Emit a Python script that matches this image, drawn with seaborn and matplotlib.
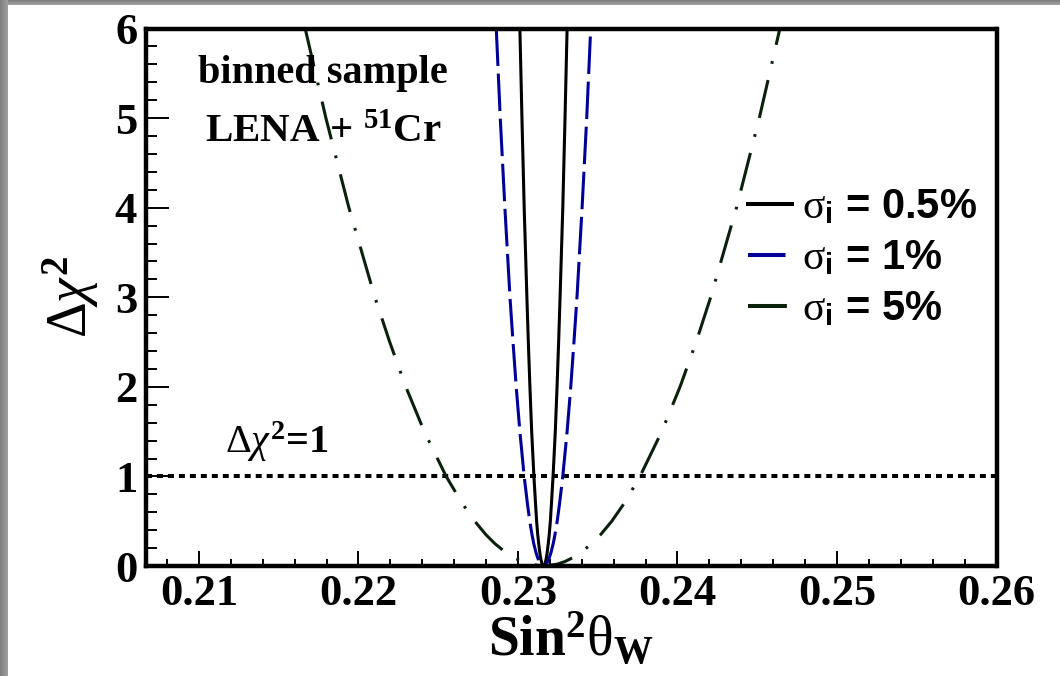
import numpy as np
import pandas as pd
import matplotlib
matplotlib.use("Agg")
import matplotlib.pyplot as plt
import seaborn as sns

# Delta chi^2 scan points, left branch (6 -> 0) then right branch (0 -> 6)
dchi2_left = [6, 5, 4, 3, 2.5, 2, 1.5, 1, 0.7, 0.5, 0.35, 0.25, 0.15, 0.1, 0.05, 0.02, 0]
dchi2_right = [0.02, 0.05, 0.1, 0.15, 0.25, 0.35, 0.5, 0.7, 1, 1.5, 2, 2.5, 3, 4, 5, 6]
dchi2_levels = dchi2_left + dchi2_right

sin2w_sigma_05 = [0.23012, 0.23025, 0.23039, 0.23056, 0.23065, 0.23075, 0.23086,
                  0.23100, 0.23110, 0.23117, 0.23124, 0.23130, 0.23137, 0.23141,
                  0.23147, 0.23151, 0.23160,
                  0.23169, 0.23173, 0.23179, 0.23183, 0.23190, 0.23196, 0.23203,
                  0.23210, 0.23220, 0.23234, 0.23245, 0.23255, 0.23264, 0.23281,
                  0.23295, 0.23308]
sin2w_sigma_1 = [0.22864, 0.22889, 0.22918, 0.22950, 0.22969, 0.22989, 0.23012,
                 0.23039, 0.23059, 0.23074, 0.23088, 0.23099, 0.23113, 0.23122,
                 0.23133, 0.23143, 0.23160,
                 0.23177, 0.23187, 0.23198, 0.23207, 0.23221, 0.23232, 0.23246,
                 0.23261, 0.23281, 0.23308, 0.23331, 0.23351, 0.23370, 0.23402,
                 0.23431, 0.23456]
sin2w_sigma_5 = [0.21666, 0.21796, 0.21940, 0.22103, 0.22196, 0.22297, 0.22413,
                 0.22550, 0.22650, 0.22729, 0.22799, 0.22855, 0.22924, 0.22967,
                 0.23024, 0.23074, 0.23160,
                 0.23246, 0.23295, 0.23351, 0.23394, 0.23463, 0.23518, 0.23588,
                 0.23666, 0.23765, 0.23901, 0.24016, 0.24117, 0.24208, 0.24370,
                 0.24513, 0.24642]

series_names = ["0.5%", "1%", "5%"]
series_colors = ["#000000", "#000099", "#0b200b"]

x_ticks = [0.21, 0.22, 0.23, 0.24, 0.25, 0.26]
y_ticks = [0, 1, 2, 3, 4, 5, 6]

df = pd.concat([
    pd.DataFrame({"sin2w": xs, "dchi2": dchi2_levels, "sigma": name})
    for xs, name in zip([sin2w_sigma_05, sin2w_sigma_1, sin2w_sigma_5], series_names)
])

plt.rcParams["lines.scale_dashes"] = False
plt.rcParams["mathtext.fontset"] = "custom"
plt.rcParams["mathtext.rm"] = "Liberation Serif"
plt.rcParams["mathtext.it"] = "Liberation Serif:italic"
plt.rcParams["mathtext.bf"] = "Liberation Serif:bold"
plt.rcParams["mathtext.sf"] = "Liberation Sans:bold"
plt.rcParams["font.family"] = ["Liberation Serif", "DejaVu Serif"]

W, H = 1060, 676
fig = plt.figure(figsize=(W / 100, H / 100), dpi=100)
fig.patch.set_facecolor("white")

# shaded frame along the left and top edges of the canvas
left_band = np.tile(np.linspace(0.50, 0.62, 8)[None, :, None], (H, 1, 3))
top_band = np.tile(np.linspace(0.50, 0.62, 5)[:, None, None], (1, W, 3))
fig.figimage(top_band, xo=0, yo=H - 5, origin="upper", zorder=0)
fig.figimage(left_band, xo=0, yo=0, origin="upper", zorder=0)

ax = fig.add_axes([145.5 / W, (H - 566) / H, 851 / W, 537.5 / H])

sns.lineplot(
    data=df, x="sin2w", y="dchi2", hue="sigma", style="sigma",
    hue_order=series_names, style_order=series_names,
    palette=dict(zip(series_names, series_colors)),
    dashes={"0.5%": "", "1%": (27, 5.5), "5%": (28, 12, 2, 12)},
    estimator=None, sort=True, linewidth=2.2, ax=ax, legend=True,
)

ax.axhline(1, color="black", linewidth=2.9, dashes=(4.3, 3.6),
           dash_capstyle="butt", zorder=1)

ax.set_xlim(0.20665, 0.26)
ax.set_ylim(0, 6)
ax.set_xticks(x_ticks)
ax.set_xticklabels([f"{v:.2f}" for v in x_ticks])
ax.set_yticks(y_ticks)
ax.set_yticklabels([str(v) for v in y_ticks])
ax.set_xticks(np.arange(0.208, 0.2601, 0.002), minor=True)
ax.set_yticks(np.arange(0, 6.01, 0.2), minor=True)

for s in ax.spines.values():
    s.set_linewidth(3.2)
    s.set_color("black")

ax.tick_params(axis="both", which="both", direction="in", width=1.4,
               top=False, right=False, colors="black")
ax.tick_params(axis="x", which="major", length=10.8, pad=6)
ax.tick_params(axis="x", which="minor", length=5)
ax.tick_params(axis="y", which="major", length=16.5, pad=6)
ax.tick_params(axis="y", which="minor", length=8)
for lab in ax.get_xticklabels() + ax.get_yticklabels():
    lab.set_fontsize(32)
    lab.set_fontweight("bold")
    lab.set_fontfamily("Liberation Serif")

ax.set_xlabel(r"Sin$^{\mathbf{2}}\mathrm{\theta}_{\mathbf{W}}$",
              fontsize=40, fontweight="bold", labelpad=-3)
ax.set_ylabel(r"$\mathrm{\Delta}\chi^{\mathbf{2}}$", fontsize=40, labelpad=10)

ax.text(0.2086, 0.917, "binned sample", transform=ax.transAxes,
        fontsize=29, fontweight="bold", ha="center", va="center")
ax.text(0.0699, 0.806, r"LENA + $^{\mathbf{51}}$Cr", transform=ax.transAxes,
        fontsize=29.5, fontweight="bold", ha="left", va="center")
ax.text(0.0934, 0.21, r"$\mathrm{\Delta}\chi^{\mathbf{2}}$=1",
        transform=ax.transAxes, fontsize=29, fontweight="bold",
        ha="left", va="baseline")

handles, _ = ax.get_legend_handles_labels()
labels = [r"$\mathrm{\sigma}_{\mathsf{i}}$ = " + n for n in series_names]
leg = ax.legend(handles[-3:], labels, loc="center left",
                bbox_to_anchor=(748 / W, 1 - 258.7 / H), bbox_transform=fig.transFigure,
                frameon=False, borderpad=0, borderaxespad=0, handlelength=1.05,
                handletextpad=0.25, labelspacing=0.265,
                prop={"family": "Liberation Sans", "weight": "bold", "size": 30})
for line in leg.get_lines():
    line.set_linewidth(2.9)

fig.savefig("out.png", dpi=100)
